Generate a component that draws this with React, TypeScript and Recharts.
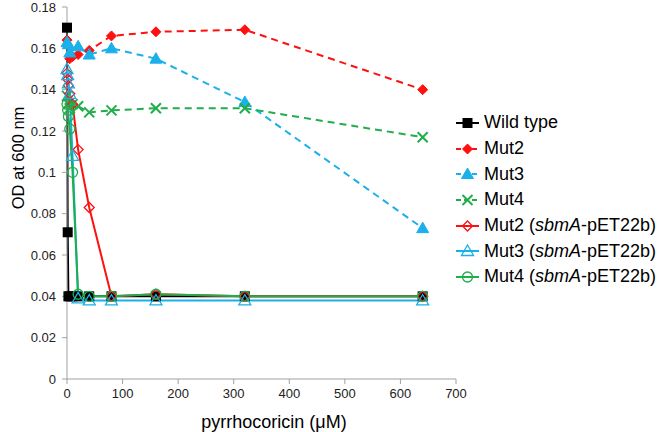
import { LineChart, Line, XAxis, YAxis } from "recharts";

const conc = [0, 1.25, 2.5, 5, 10, 20, 40, 80, 160, 320, 640];
const wildType = [0.17, 0.071, 0.04, 0.04, 0.04, 0.04, 0.04, 0.04, 0.04, 0.04, 0.04];
const mut2 = [0.164, null, null, 0.155, 0.156, 0.157, 0.159, 0.166, 0.168, 0.169, 0.14];
const mut3 = [0.163, null, 0.162, 0.158, null, 0.161, 0.157, 0.16, 0.155, 0.134, 0.073];
const mut4 = [0.137, null, 0.133, 0.131, 0.133, 0.132, 0.129, 0.13, 0.131, 0.131, 0.117];
const mut2Sbma = [0.148, 0.145, 0.142, 0.138, 0.133, 0.111, 0.083, 0.04, 0.041, 0.04, 0.04];
const mut3Sbma = [0.15, 0.147, 0.143, 0.138, 0.108, 0.039, 0.038, 0.038, 0.038, 0.038, 0.038];
const mut4Sbma = [0.133, 0.13, 0.127, 0.121, 0.1, 0.041, 0.04, 0.04, 0.041, 0.04, 0.04];

const xTicks = [0, 100, 200, 300, 400, 500, 600, 700];
const yTicks = [0, 0.02, 0.04, 0.06, 0.08, 0.1, 0.12, 0.14, 0.16, 0.18];

const RED = "#ff1010";
const BLUE = "#1ab0ea";
const GREEN = "#1fae4b";
const FONT = "Liberation Sans, Arial, sans-serif";

type Shape = "square" | "diamond" | "triangle" | "cross" | "circle";

interface Series {
  key: string;
  label: string;
  italic?: string;
  values: (number | null)[];
  color: string;
  dashed: boolean;
  shape: Shape;
  filled: boolean;
}

const series: Series[] = [
  { key: "wt", label: "Wild type", values: wildType, color: "#000000", dashed: false, shape: "square", filled: true },
  { key: "mut2", label: "Mut2", values: mut2, color: RED, dashed: true, shape: "diamond", filled: true },
  { key: "mut3", label: "Mut3", values: mut3, color: BLUE, dashed: true, shape: "triangle", filled: true },
  { key: "mut4", label: "Mut4", values: mut4, color: GREEN, dashed: true, shape: "cross", filled: false },
  { key: "mut2s", label: "Mut2", italic: "sbmA", values: mut2Sbma, color: RED, dashed: false, shape: "diamond", filled: false },
  { key: "mut3s", label: "Mut3", italic: "sbmA", values: mut3Sbma, color: BLUE, dashed: false, shape: "triangle", filled: false },
  { key: "mut4s", label: "Mut4", italic: "sbmA", values: mut4Sbma, color: GREEN, dashed: false, shape: "circle", filled: false },
];

const data = conc.map((c, i) => {
  const row: Record<string, number | null> = { x: c };
  series.forEach((s) => {
    row[s.key] = s.values[i];
  });
  return row;
});

function Marker({ cx, cy, s }: { cx: number; cy: number; s: Series }) {
  if (cx == null || cy == null || isNaN(cx) || isNaN(cy)) return null;
  const fill = s.filled ? s.color : "none";
  const sw = s.filled ? 1 : 1.3;
  if (s.shape === "square") {
    return <rect x={cx - 5} y={cy - 5} width={10} height={10} fill={s.color} />;
  }
  if (s.shape === "diamond") {
    const r = 5;
    return (
      <polygon
        points={`${cx},${cy - r} ${cx + r},${cy} ${cx},${cy + r} ${cx - r},${cy}`}
        fill={fill}
        stroke={s.color}
        strokeWidth={sw}
      />
    );
  }
  if (s.shape === "triangle") {
    const r = 6;
    return (
      <polygon
        points={`${cx},${cy - r} ${cx + r},${cy + r * 0.75} ${cx - r},${cy + r * 0.75}`}
        fill={fill}
        stroke={s.color}
        strokeWidth={sw}
      />
    );
  }
  if (s.shape === "cross") {
    const r = 5;
    return (
      <g stroke={s.color} strokeWidth={2}>
        <line x1={cx - r} y1={cy - r} x2={cx + r} y2={cy + r} />
        <line x1={cx - r} y1={cy + r} x2={cx + r} y2={cy - r} />
      </g>
    );
  }
  return <circle cx={cx} cy={cy} r={5} fill="none" stroke={s.color} strokeWidth={1.3} />;
}

function LegendBox() {
  return (
    <div
      style={{
        position: "absolute",
        left: 455,
        top: 110,
        fontFamily: FONT,
        fontSize: 18,
        color: "#000",
        whiteSpace: "nowrap",
      }}
    >
      {series.map((s) => (
        <div key={s.key} style={{ display: "flex", alignItems: "center", height: 25.7 }}>
          <svg width={26} height={16} style={{ marginRight: 3 }}>
            <line
              x1={1}
              y1={8}
              x2={24}
              y2={8}
              stroke={s.color}
              strokeWidth={2}
              strokeDasharray={s.dashed ? "5 3" : undefined}
            />
            <Marker cx={12.5} cy={8} s={s} />
          </svg>
          <span>
            {s.label}
            {s.italic ? (
              <>
                {" ("}
                <i>{s.italic}</i>
                {"-pET22b)"}
              </>
            ) : null}
          </span>
        </div>
      ))}
    </div>
  );
}

export default function App() {
  const axisColor = "#a0a0a0";
  const tickStyle = { fill: "#222", fontSize: 13, fontFamily: FONT };
  return (
    <div style={{ position: "absolute", left: 0, top: 0, width: 666, height: 432, background: "#fff" }}>
      <LineChart width={666} height={432} data={data} margin={{ top: 7, right: 210, bottom: 0, left: 0 }}>
        <XAxis
          dataKey="x"
          type="number"
          domain={[0, 700]}
          ticks={xTicks}
          height={53}
          stroke={axisColor}
          tick={tickStyle}
          tickSize={5}
          tickMargin={5}
          interval={0}
        />
        <YAxis
          type="number"
          domain={[0, 0.18]}
          ticks={yTicks}
          width={67}
          stroke={axisColor}
          tick={tickStyle}
          tickSize={5}
          tickMargin={6}
          interval={0}
        />
        {series.map((s) => (
          <Line
            key={s.key}
            dataKey={s.key}
            stroke={s.color}
            strokeWidth={2}
            strokeDasharray={s.dashed ? "7 5" : undefined}
            connectNulls
            isAnimationActive={false}
            dot={(p: any) => <Marker key={`${s.key}-${p.index}`} cx={p.cx} cy={p.cy} s={s} />}
            activeDot={false}
          />
        ))}
      </LineChart>
      <LegendBox />
      <div
        style={{
          position: "absolute",
          left: 18,
          top: 158,
          transform: "translate(-50%, -50%) rotate(-90deg)",
          fontFamily: FONT,
          fontSize: 16.5,
          whiteSpace: "nowrap",
          color: "#000",
        }}
      >
        OD at 600 nm
      </div>
      <div
        style={{
          position: "absolute",
          left: 274,
          top: 422,
          transform: "translate(-50%, -50%)",
          fontFamily: FONT,
          fontSize: 18,
          whiteSpace: "nowrap",
          color: "#000",
        }}
      >
        pyrrhocoricin (μM)
      </div>
    </div>
  );
}
